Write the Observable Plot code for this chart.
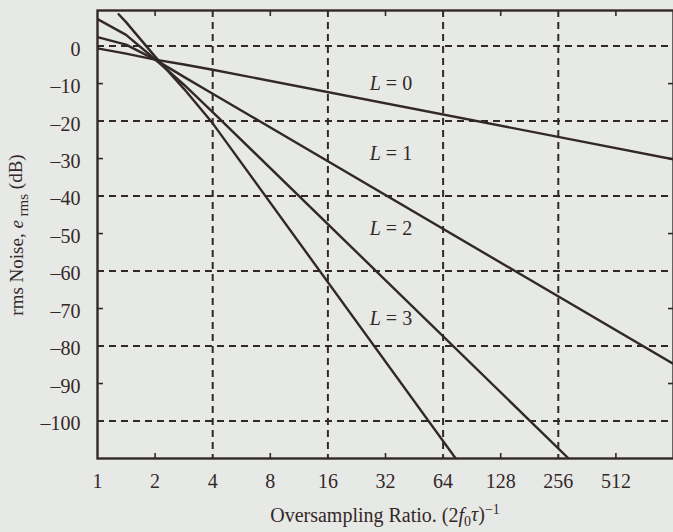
<!DOCTYPE html>
<html><head><meta charset="utf-8">
<script src="https://cdn.jsdelivr.net/npm/d3@7"></script>
<script src="https://cdn.jsdelivr.net/npm/@observablehq/plot@0.6"></script>
<style>
body{margin:0;background:#e7e9e6;}
#chart svg{display:block}
</style>
</head><body><div id="chart"></div>
<script>
// ---- data ----
const xTicks = [1, 2, 4, 8, 16, 32, 64, 128, 256, 512];
const xGrid = [4, 16, 64, 256];
const xMinor = [2, 8, 32, 128, 512];
const yTicks = [0, -10, -20, -30, -40, -50, -60, -70, -80, -90, -100];
const yGrid = [0, -20, -40, -60, -80, -100];
const yMinor = [-10, -30, -50, -70, -90];

const osrL0 = [1, 1.41, 2, 2.83, 4, 1024];
const dbL0  = [-0.6, -2.0, -3.6, -4.9, -6.3, -30.2];
const osrL1 = [1, 1.41, 2, 2.83, 4, 1024];
const dbL1  = [2.4, 0.4, -3.6, -8.2, -12.7, -84.8];
const osrL2 = [1, 1.41, 2, 2.83, 4, 290];
const dbL2  = [7.2, 3.0, -3.5, -10.3, -17.6, -110];
const osrL3 = [1.29, 1.41, 2, 2.83, 4, 74.5];
const dbL3  = [8.5, 6.4, -2.8, -11.4, -20.6, -110];

const labelL = ["L", "L", "L", "L"];
const labelRest = ["= 0", "= 1", "= 2", "= 3"];
const labelX = [31, 31, 31, 31];
const labelY = [-10.0, -28.6, -48.7, -72.7];

// ---- build ----
const ink = "#332828";
const bg = "#e7e9e6";
const series = [[osrL0, dbL0], [osrL1, dbL1], [osrL2, dbL2], [osrL3, dbL3]];
const lineMarks = series.map(([xs, ys]) =>
  Plot.line(xs.map((x, i) => ({x, y: ys[i]})), {x: "x", y: "y", stroke: ink, strokeWidth: 2.4, clip: true})
);
const labels = labelL.map((l, i) => ({x: labelX[i], y: labelY[i], l, r: labelRest[i]}));
const fmtY = d => d === 0 ? "0" : "\u2013" + (-d);

const plot = Plot.plot({
  width: 673, height: 532,
  marginLeft: 97, marginRight: 0, marginTop: 10, marginBottom: 74,
  style: {background: bg, fontFamily: "'Liberation Serif', 'DejaVu Serif', serif", fontSize: "20px", color: ink},
  x: {type: "log", base: 2, domain: [1, 1024]},
  y: {domain: [-110, 9.5]},
  marks: [
    Plot.ruleY(yGrid, {stroke: ink, strokeWidth: 2, strokeDasharray: "7,5"}),
    Plot.ruleX(xGrid, {stroke: ink, strokeWidth: 2, strokeDasharray: "7,5"}),
    Plot.axisX(xTicks, {anchor: "bottom", tickSize: 0, tickPadding: 15, label: null, tickFormat: d => String(d), fill: ink}),
    Plot.axisX(xMinor, {anchor: "bottom", tickSize: -5, tickFormat: () => "", label: null, stroke: ink, strokeWidth: 1.6}),
    Plot.axisX(xMinor, {anchor: "top", tickSize: -5, tickFormat: () => "", label: null, stroke: ink, strokeWidth: 1.6}),
    Plot.axisY(yTicks, {anchor: "left", tickSize: 0, tickPadding: 17, label: null, tickFormat: fmtY, dy: 3, fill: ink}),
    Plot.axisY(yMinor, {anchor: "left", tickSize: -6, tickFormat: () => "", label: null, stroke: ink, strokeWidth: 1.6}),
    Plot.axisY(yMinor, {anchor: "right", tickSize: -6, tickFormat: () => "", label: null, stroke: ink, strokeWidth: 1.6}),
    ...lineMarks,
    Plot.frame({stroke: ink, strokeWidth: 2.4}),
    Plot.text(labels, {x: "x", y: "y", text: "l", textAnchor: "end", dx: -2, fontStyle: "italic", fontSize: 20, fill: ink}),
    Plot.text(labels, {x: "x", y: "y", text: "r", textAnchor: "start", dx: 3, fontSize: 20, fill: ink})
  ]
});

const svg = d3.select(plot);
// y-axis title
const yt = svg.append("text")
  .attr("transform", "translate(23,235) rotate(-90)")
  .attr("text-anchor", "middle")
  .attr("fill", ink)
  .style("font-size", "19px");
yt.append("tspan").text("rms Noise, ");
yt.append("tspan").style("font-style", "italic").text("e");
yt.append("tspan").attr("dy", "0.3em").style("font-size", "15px").text(" rms");
yt.append("tspan").attr("dy", "-0.3em").text(" (dB)");
// x-axis title
const xt = svg.append("text")
  .attr("x", 385).attr("y", 522)
  .attr("text-anchor", "middle")
  .attr("fill", ink)
  .style("font-size", "20px");
xt.append("tspan").text("Oversampling Ratio. (2");
xt.append("tspan").style("font-style", "italic").text("f");
xt.append("tspan").attr("dy", "0.25em").style("font-size", "14px").text("0");
xt.append("tspan").attr("dy", "-0.25em").style("font-style", "italic").text("\u03C4");
xt.append("tspan").text(")");
xt.append("tspan").attr("dy", "-0.45em").style("font-size", "14px").text("\u22121");

document.getElementById("chart").appendChild(plot);
</script>
</body></html>
